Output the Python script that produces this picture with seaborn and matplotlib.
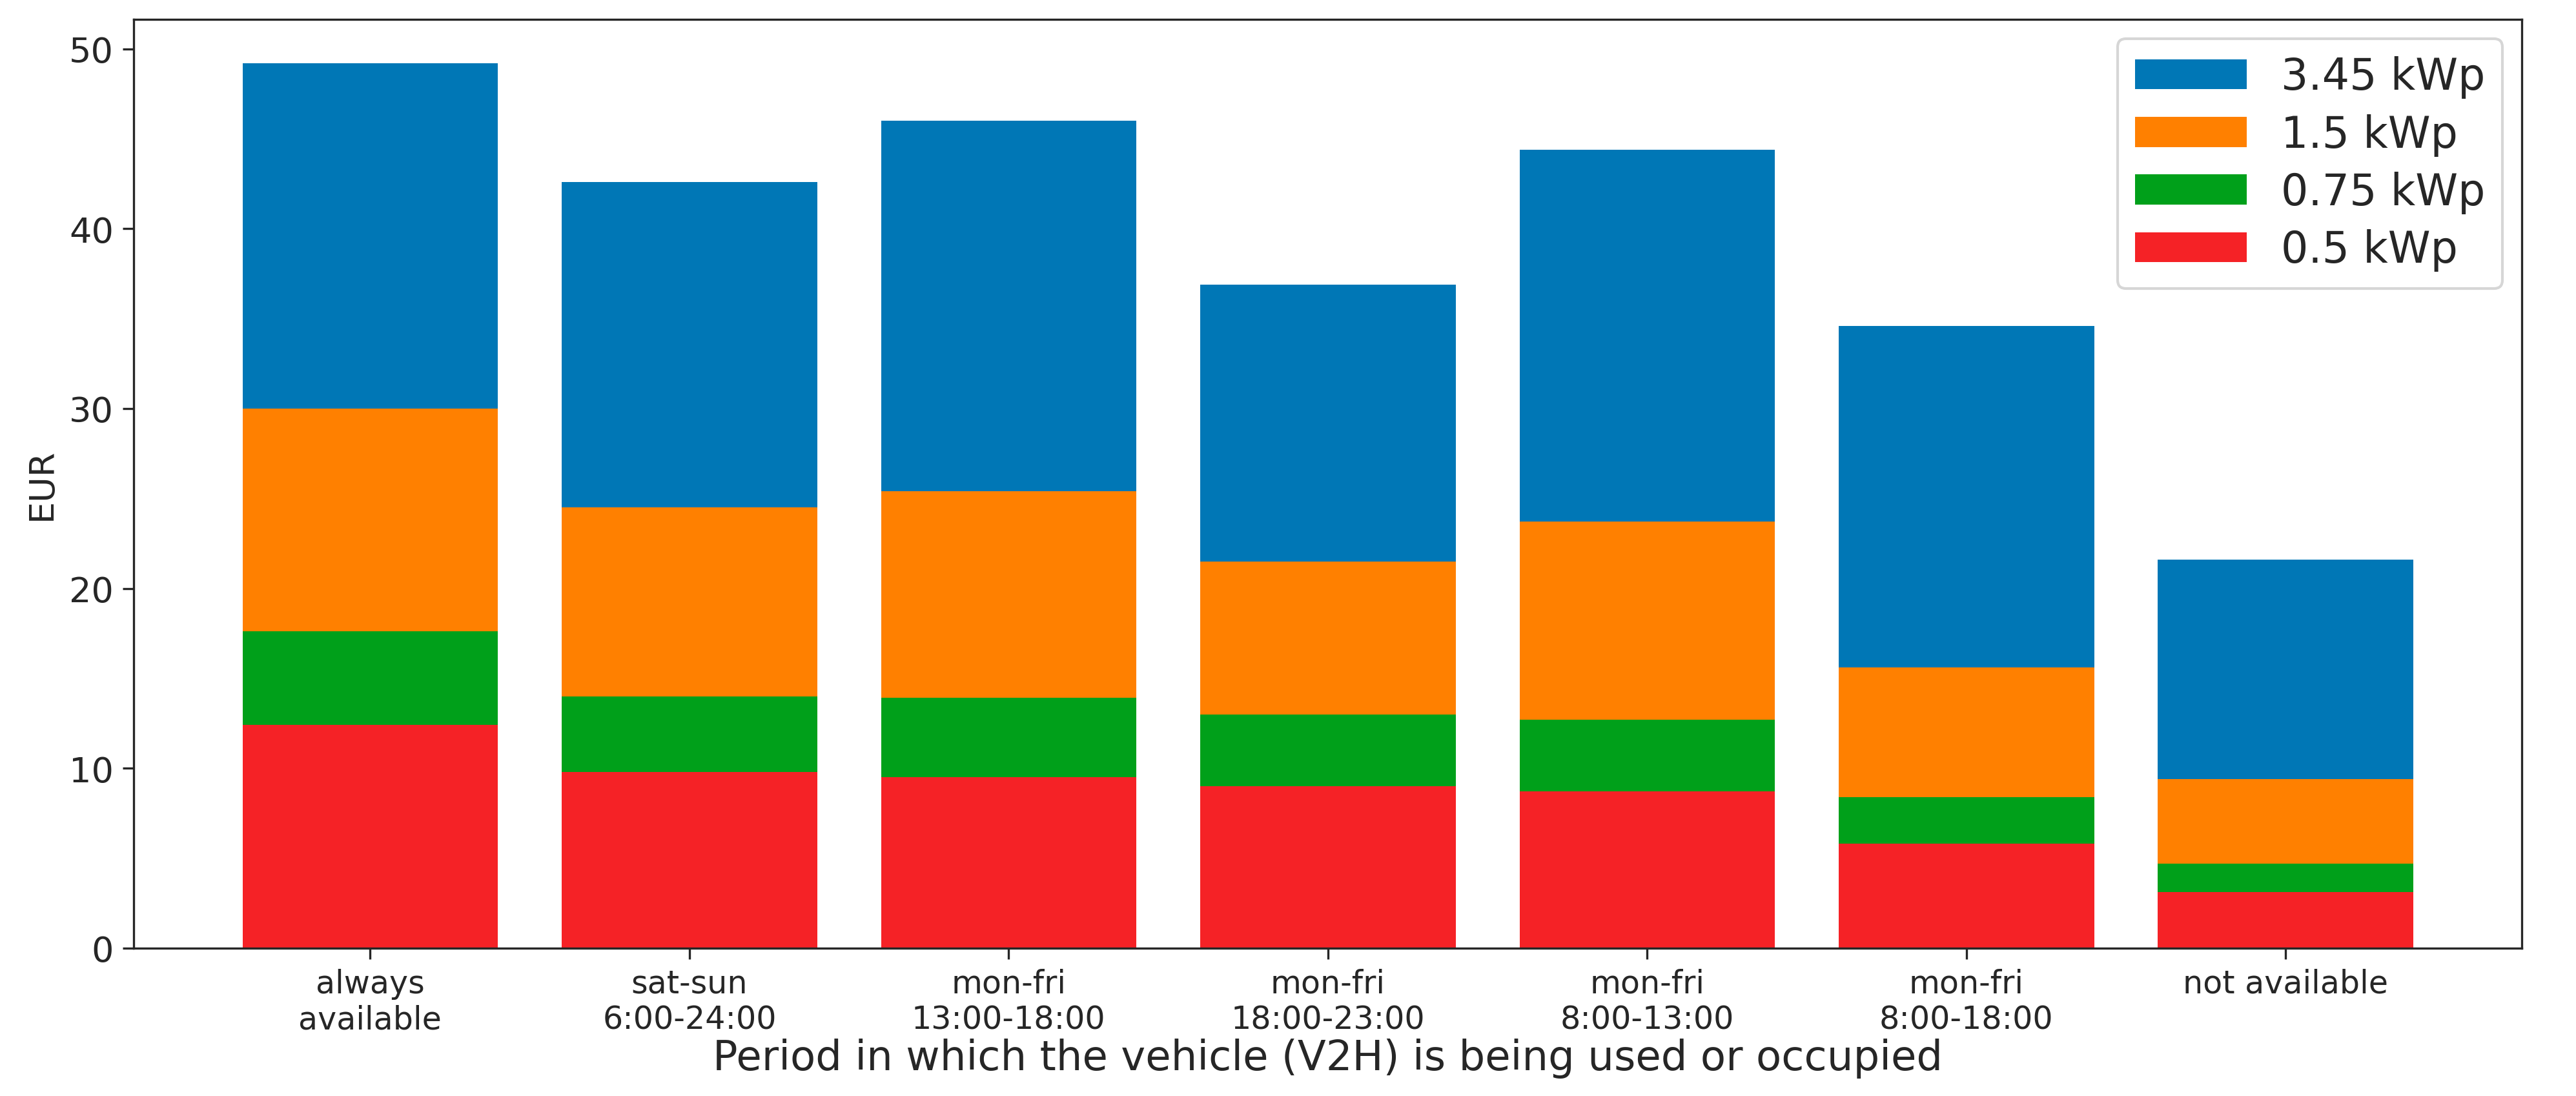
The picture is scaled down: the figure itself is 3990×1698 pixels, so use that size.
import matplotlib
matplotlib.use("Agg")
import matplotlib.pyplot as plt
import seaborn as sns
import pandas as pd

# Periods in which the vehicle is used / occupied
periods = [
    "always\navailable",
    "sat-sun\n6:00-24:00",
    "mon-fri\n13:00-18:00",
    "mon-fri\n18:00-23:00",
    "mon-fri\n8:00-13:00",
    "mon-fri\n8:00-18:00",
    "not available",
]

# Savings in EUR per PV size (each bar drawn from zero, overlapping)
eur_345 = [49.2, 42.6, 46.0, 36.9, 44.4, 34.6, 21.6]
eur_15 = [30.0, 24.5, 25.4, 21.5, 23.7, 15.6, 9.4]
eur_075 = [17.6, 14.0, 13.9, 13.0, 12.7, 8.4, 4.7]
eur_05 = [12.4, 9.8, 9.5, 9.0, 8.7, 5.8, 3.1]

series_labels = ["3.45 kWp", "1.5 kWp", "0.75 kWp", "0.5 kWp"]
series_colors = ["#0077b6", "#ff8000", "#00a01a", "#f52226"]

sns.set_style("ticks")
plt.rcParams["font.family"] = ["DejaVu Sans"]

fig, ax = plt.subplots(figsize=(13.3, 5.663), dpi=300)

for vals, lab, col in zip([eur_345, eur_15, eur_075, eur_05], series_labels, series_colors):
    df = pd.DataFrame({"period": periods, "eur": vals})
    sns.barplot(data=df, x="period", y="eur", color=col, saturation=1,
                width=0.8, label=lab, ax=ax, errorbar=None, linewidth=0)

ax.set_xlim(-0.74, len(periods) - 0.26)
ax.set_ylim(0, 51.66)
ax.set_yticks([0, 10, 20, 30, 40, 50])
ax.tick_params(axis="x", labelsize=11.8, length=4, width=0.8)
ax.tick_params(axis="y", labelsize=13, length=4, width=0.8)
ax.set_ylabel("EUR", fontsize=13)
ax.set_xlabel("Period in which the vehicle (V2H) is being used or occupied", fontsize=15.4, labelpad=1)
for side in ["top", "right", "left", "bottom"]:
    ax.spines[side].set_visible(True)
    ax.spines[side].set_linewidth(0.8)

ax.legend(loc="upper right", fontsize=16, frameon=True, labelspacing=0.35,
          handlelength=2.6, borderaxespad=0.45)

plt.subplots_adjust(left=0.052, right=0.979, top=0.982, bottom=0.135)
plt.savefig("out.png", dpi=300)
